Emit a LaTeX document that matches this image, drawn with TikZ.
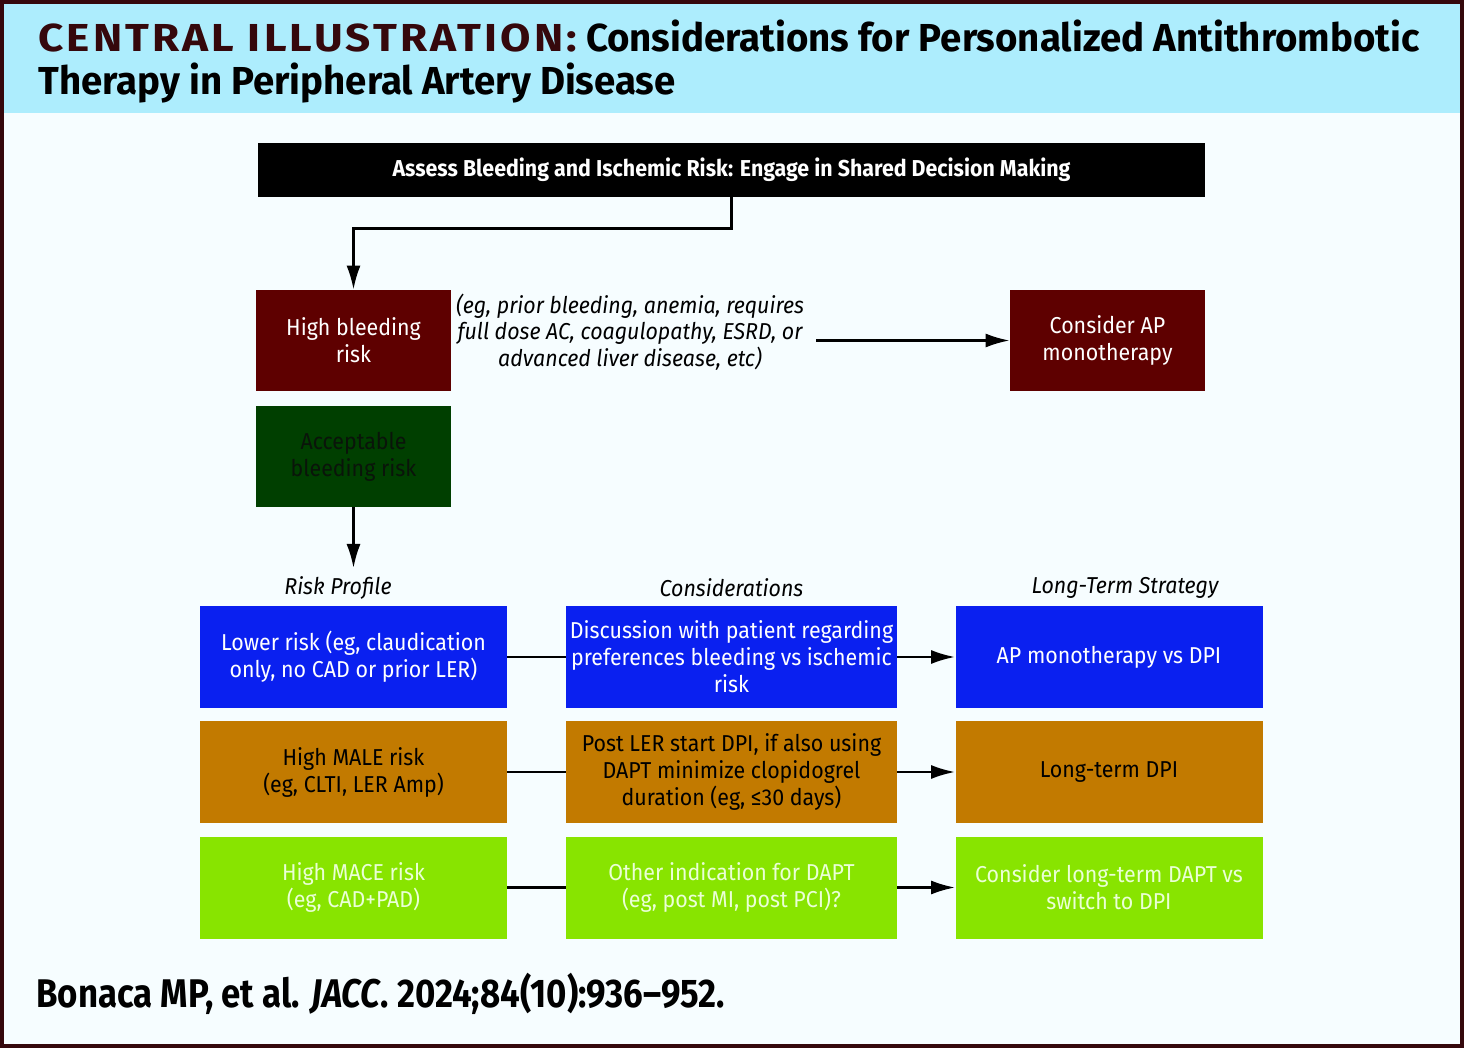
\documentclass[tikz,border=0pt]{standalone}
\usepackage{fontspec}
\setmainfont{Fira Sans}[FakeStretch=0.93]
\newfontfamily\capsfont{Fira Sans}[LetterSpace=8, FakeStretch=1.13]
\newfontfamily\titlefont{Fira Sans}[FakeStretch=0.985]
\newfontfamily\citefont{Fira Sans}[FakeStretch=0.87, Ligatures=TeX]
\usetikzlibrary{arrows.meta,positioning}

\definecolor{frame}{HTML}{35080C}
\definecolor{paper}{HTML}{F6FDFF}
\definecolor{sky}{HTML}{ADEDFD}
\definecolor{bleedred}{HTML}{5E0000}
\definecolor{bleedgreen}{HTML}{003F00}
\definecolor{darkleaf}{HTML}{0A140A}
\definecolor{lowblue}{HTML}{0A20F0}
\definecolor{maleorange}{HTML}{C27A00}
\definecolor{macegreen}{HTML}{88E400}
\definecolor{paleleaf}{HTML}{EAFFD6}

\begin{document}
\begin{tikzpicture}[x=0.5pt,y=-0.5pt]
    \tikzstyle{box} = [rectangle, inner sep=0pt, align=center, font=\fontsize{11.5}{13.5}\selectfont]
    \tikzstyle{risk} = [box, minimum width=97.5pt, minimum height=50.5pt]
    \tikzstyle{cell} = [box, minimum width=153.5pt, minimum height=51pt]
    \tikzstyle{talk} = [box, minimum width=165.5pt, minimum height=51pt]
    \tikzstyle{colhead} = [font=\itshape\fontsize{11.5}{13.5}\selectfont]
    \tikzstyle{headline} = [anchor=base west, inner sep=0pt, font=\titlefont\bfseries\fontsize{19.5}{21.5}\selectfont]
    \tikzstyle{arrow} = [line width=1.2pt, -{Latex[length=12pt,width=7pt]}]
    \tikzstyle{link} = [line width=1.2pt]

    \useasboundingbox (0,0) rectangle (1464,1048);
    \fill[frame] (0,0) rectangle (1464,1048);
    \fill[paper] (4,4) rectangle (1460,1044);
    \fill[sky] (4,4) rectangle (1460,113);

    % title band
    \node [headline] (title) at (38,52)
        {{\capsfont\color{frame}CENTRAL ILLUSTRATION:} Considerations for Personalized Antithrombotic};
    \node [headline] (subtitle) at (38,95) {Therapy in Peripheral Artery Disease};

    % bleeding assessment
    \node [box, fill=black, text=white, minimum width=473.5pt, minimum height=27pt, font=\bfseries\fontsize{11.5}{13}\selectfont] (assess) at (731.5,170)
        {Assess Bleeding and Ischemic Risk: Engage in Shared Decision Making};
    \node [risk, fill=bleedred, text=white] (highbleed) at (353.5,340.5) {High bleeding\\risk};
    \node [risk, fill=bleedred, text=white] (apmono) at (1107.5,340.5) {Consider AP\\monotherapy};
    \node [risk, fill=bleedgreen, text=darkleaf] (accept) at (353.5,456.5) {Acceptable\\bleeding risk};
    \node [box, font=\itshape\fontsize{11.5}{13.3}\selectfont, inner sep=6pt] (examples) at (630,332)
        {(eg, prior bleeding, anemia, requires\\full dose AC, coagulopathy, ESRD, or\\advanced liver disease, etc)};
    \coordinate (riskin) at (353.5,568);

    % column heads
    \node [colhead] (riskhead) at (338,588) {Risk Profile};
    \node [colhead] (talkhead) at (731.5,588) {Considerations};
    \node [colhead] (planhead) at (1125,588) {Long-Term Strategy};

    % risk profiles
    \node [cell, fill=lowblue, text=white] (low) at (353.5,657) {Lower risk (eg, claudication\\only, no CAD or prior LER)};
    \node [cell, fill=maleorange, text=black] (male) at (353.5,772) {High MALE risk\\(eg, CLTI, LER Amp)};
    \node [cell, fill=macegreen, text=paleleaf] (mace) at (353.5,887.5) {High MACE risk\\(eg, CAD+PAD)};

    % considerations
    \node [talk, fill=lowblue, text=white] (lowtalk) at (731.5,657) {Discussion with patient regarding\\preferences bleeding vs ischemic\\risk};
    \node [talk, fill=maleorange, text=black] (maletalk) at (731.5,772) {Post LER start DPI, if also using\\DAPT minimize clopidogrel\\duration (eg, ≤30 days)};
    \node [talk, fill=macegreen, text=paleleaf] (macetalk) at (731.5,887.5) {Other indication for DAPT\\(eg, post MI, post PCI)?};

    % long-term strategy
    \node [cell, fill=lowblue, text=white] (lowplan) at (1109,657) {AP monotherapy vs DPI};
    \node [cell, fill=maleorange, text=black] (maleplan) at (1109,772) {Long-term DPI};
    \node [cell, fill=macegreen, text=paleleaf] (maceplan) at (1109,887.5) {Consider long-term DAPT vs\\switch to DPI};

    \node [anchor=base west, inner sep=0pt, font=\citefont\bfseries\fontsize{20}{24}\selectfont] (cite) at (36,1007)
        {Bonaca MP, et al. \textit{JACC}. 2024;84(10):936–952.};

    \draw [arrow] (assess.south) -- ++(0,31) -| (highbleed.north);
    \draw [arrow] (examples.east |- apmono.west) -- (apmono.west);
    \draw [arrow] (accept.south) -- (riskin);
    \draw [link] (low) -- (lowtalk);
    \draw [link] (male) -- (maletalk);
    \draw [link] (mace) -- (macetalk);
    \draw [arrow] (lowtalk) -- (lowplan);
    \draw [arrow] (maletalk) -- (maleplan);
    \draw [arrow] (macetalk) -- (maceplan);
\end{tikzpicture}
\end{document}
